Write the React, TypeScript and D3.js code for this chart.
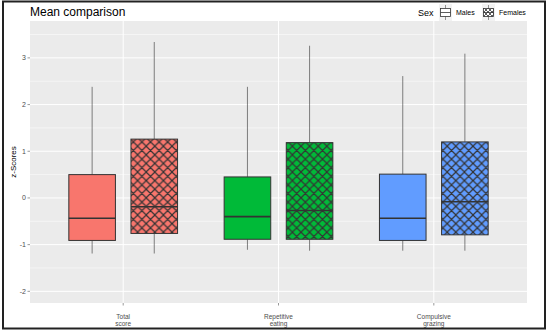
import React from "react";
import * as d3 from "d3";

const categories = ["Total\nscore", "Repetitive\neating", "Compulsive\ngrazing"];
const sexes = ["Males", "Females"];
const colors = ["#F8766D", "#00BA38", "#619CFF"];
// [lower whisker, Q1, median, Q3, upper whisker]
const malesStats = [
  [-1.19, -0.91, -0.435, 0.5, 2.38],
  [-1.11, -0.885, -0.4, 0.45, 2.38],
  [-1.13, -0.91, -0.435, 0.51, 2.61],
];
const femalesStats = [
  [-1.19, -0.76, -0.19, 1.26, 3.34],
  [-1.13, -0.885, -0.27, 1.185, 3.26],
  [-1.13, -0.79, -0.08, 1.2, 3.09],
];
const yTicks = [-2, -1, 0, 1, 2, 3];
const yMinor = [-1.5, -0.5, 0.5, 1.5, 2.5, 3.5];

const W = 550, H = 333;
const pl = 30, pr = 527, pt = 21, pb = 303;
const P = 8.6;

export default function App() {
  const x = d3.scaleLinear().domain([0.4, 3.6]).range([pl, pr]);
  const y = d3.scaleLinear().domain([-2.25, 3.79]).range([pb, pt]);
  const bw = x(0.3) - x(0);
  const groups = [malesStats, femalesStats];
  return (
    <svg width={W} height={H} style={{ position: "absolute", left: 0, top: 0, fontFamily: "Liberation Sans, Arial, sans-serif" }}>
      <defs>
        <pattern id="hatch" patternUnits="userSpaceOnUse" width={P} height={P}>
          <path d={`M0,0 L${P},${P} M${P},0 L0,${P} M-1,${P - 1} L1,${P + 1} M${P - 1},-1 L${P + 1},1 M-1,1 L1,-1 M${P - 1},${P + 1} L${P + 1},${P - 1}`} stroke="#333" strokeWidth={1.2} />
        </pattern>
        <pattern id="hatchSmall" patternUnits="userSpaceOnUse" width={4} height={4}>
          <path d="M0,0 L4,4 M4,0 L0,4" stroke="#333" strokeWidth={0.8} />
        </pattern>
      </defs>
      <rect x={0} y={0} width={W} height={H} fill="#fff" />
      <rect x={pl} y={pt} width={pr - pl} height={pb - pt} fill="#EBEBEB" />
      {yMinor.map((v) => (
        <line key={"mi" + v} x1={pl} x2={pr} y1={y(v)} y2={y(v)} stroke="#fff" strokeWidth={0.5} />
      ))}
      {yTicks.map((v) => (
        <line key={"ma" + v} x1={pl} x2={pr} y1={y(v)} y2={y(v)} stroke="#fff" strokeWidth={1} />
      ))}
      {categories.map((c, i) => (
        <line key={"vx" + i} x1={x(i + 1)} x2={x(i + 1)} y1={pt} y2={pb} stroke="#fff" strokeWidth={1} />
      ))}
      {categories.map((c, i) =>
        groups.map((g, j) => {
          const s = g[i];
          const cx = x(i + 1 + (j === 0 ? -0.2 : 0.2));
          return (
            <g key={c + j}>
              <line x1={cx} x2={cx} y1={y(s[4])} y2={y(s[3])} stroke="#333" strokeWidth={0.6} />
              <line x1={cx} x2={cx} y1={y(s[1])} y2={y(s[0])} stroke="#333" strokeWidth={0.6} />
              <rect x={cx - bw / 2} y={y(s[3])} width={bw} height={y(s[1]) - y(s[3])} fill={colors[i]} stroke="#333" strokeWidth={1} />
              {j === 1 && (
                <rect x={cx - bw / 2} y={y(s[3])} width={bw} height={y(s[1]) - y(s[3])} fill="url(#hatch)" stroke="none" />
              )}
              <line x1={cx - bw / 2} x2={cx + bw / 2} y1={y(s[2])} y2={y(s[2])} stroke="#333" strokeWidth={1.6} />
            </g>
          );
        })
      )}
      {yTicks.map((v) => (
        <g key={"yt" + v}>
          <line x1={pl - 2.5} x2={pl} y1={y(v)} y2={y(v)} stroke="#333" strokeWidth={0.5} />
          <text x={pl - 4} y={y(v)} dy="0.35em" textAnchor="end" fontSize={7} fill="#4D4D4D">{v < 0 ? "-" + Math.abs(v) : v}</text>
        </g>
      ))}
      {categories.map((c, i) => (
        <g key={"xt" + i}>
          <line x1={x(i + 1)} x2={x(i + 1)} y1={pb} y2={pb + 2.5} stroke="#333" strokeWidth={0.5} />
          {c.split("\n").map((t, k) => (
            <text key={k} x={x(i + 1)} y={pb + 15.5 + k * 7} textAnchor="middle" fontSize={6.5} fill="#4D4D4D">{t}</text>
          ))}
        </g>
      ))}
      <text transform={`translate(16,${(pt + pb) / 2}) rotate(-90)`} textAnchor="middle" fontSize={8} fill="#000">z-Scores</text>
      <text x={30} y={16} fontSize={12} fill="#000">Mean comparison</text>
      <text x={418} y={16} fontSize={9} fill="#000">Sex</text>
      {sexes.map((s, j) => {
        const kx = j === 0 ? 439 : 482;
        const tx = j === 0 ? 456 : 499;
        return (
          <g key={s}>
            <rect x={kx} y={4} width={13} height={17} fill="#F2F2F2" />
            <line x1={kx + 6.5} x2={kx + 6.5} y1={5} y2={20} stroke="#333" strokeWidth={0.5} />
            <rect x={kx + 1.5} y={8.5} width={10} height={8} fill="#fff" stroke="#333" strokeWidth={0.8} />
            {j === 1 && <rect x={kx + 1.5} y={8.5} width={10} height={8} fill="url(#hatchSmall)" />}
            <line x1={kx + 1.5} x2={kx + 11.5} y1={12.5} y2={12.5} stroke="#333" strokeWidth={0.8} />
            <text x={tx} y={15} fontSize={7} fill="#000">{s}</text>
          </g>
        );
      })}
      <rect x={3} y={1.5} width={542} height={327} fill="none" stroke="#222" strokeWidth={2} />
    </svg>
  );
}
